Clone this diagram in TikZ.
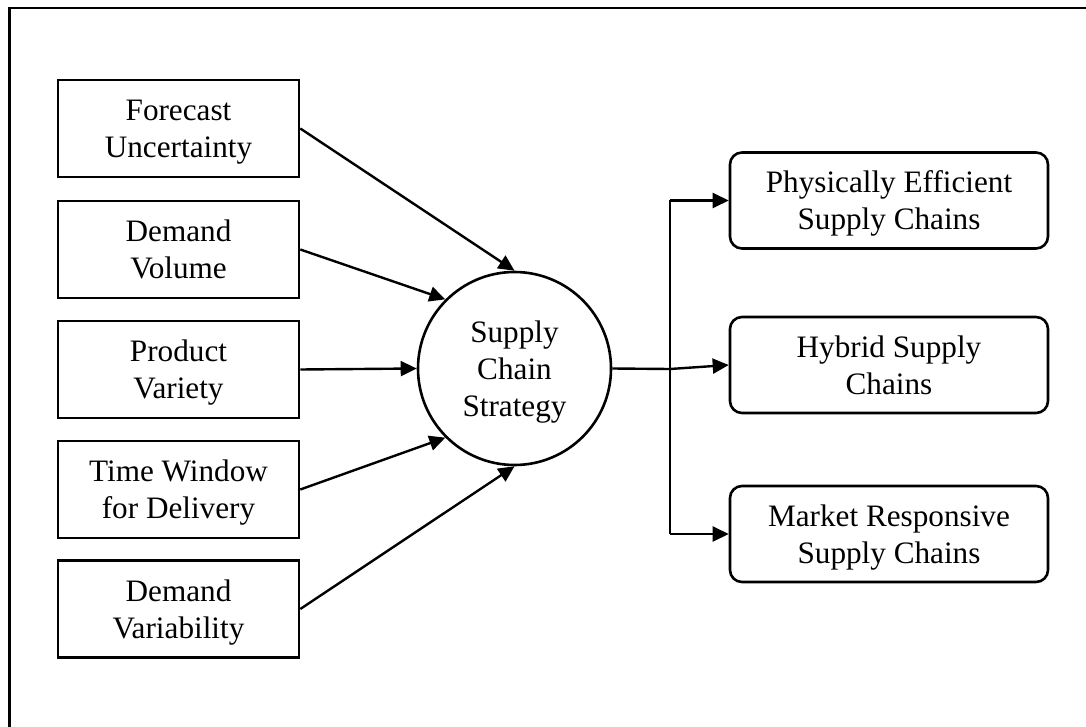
\documentclass[tikz,border=0pt]{standalone}
\usepackage{fontspec}
\setmainfont{Liberation Serif}
\usetikzlibrary{arrows.meta}
\begin{document}
\begin{tikzpicture}[x=0.5pt,y=-0.5pt,
  line width=1.3pt,
  label text/.style={font=\fontsize{15.6}{18.5}\selectfont, text depth=0pt},
  factor/.style={draw, rectangle, minimum width=120.5pt, minimum height=48.5pt,
    align=center, inner sep=0pt, label text},
  outcome/.style={draw, rectangle, rounded corners=6pt, minimum width=159pt,
    minimum height=48pt, align=center, inner sep=0pt, label text},
  hub/.style={draw, circle, minimum size=96.5pt, align=center, inner sep=0pt,
    label text},
  link/.style={-{Triangle[length=8pt,width=7.5pt]}, line width=1.2pt}]
\useasboundingbox (0,0) rectangle (1086,727);
% open outer frame
\draw[line width=1.3pt] (9.5,727) -- (9.5,8) -- (1086,8);

% driving factors
\node[factor] (fu) at (178.5,128.5) {Forecast\\Uncertainty};
\node[factor] (dv) at (178.5,249.5) {Demand\\Volume};
\node[factor] (pv) at (178.5,369.5) {Product\\Variety};
\node[factor] (tw) at (178.5,489.5) {Time Window\\for Delivery};
\node[factor] (dy) at (178.5,609) {Demand\\Variability};

% strategy
\node[hub] (sc) at (514.5,368.5) {Supply\\Chain\\Strategy};

% resulting chain types
\node[outcome] (pe) at (889,200.5) {Physically Efficient\\Supply Chains};
\node[outcome] (hy) at (889,365) {Hybrid Supply\\Chains};
\node[outcome] (mr) at (889,534) {Market Responsive\\Supply Chains};

% factor connectors
\draw[link] (fu.east) -- (sc.north);
\draw[link] (dv.east) -- (sc.135);
\draw[link] (pv.east) -- (sc.west);
\draw[link] (tw.east) -- (sc.225);
\draw[link] (dy.east) -- (sc.south);

% outcome connectors
\coordinate (split) at (670,369);
\coordinate (up) at (670,200.5);
\coordinate (down) at (670,534);
\draw[link] (sc.east) -- (split) -- (hy.west);
\draw[line width=1.2pt] (up) -- (down);
\draw[link] (up) -- (pe.west);
\draw[link] (down) -- (mr.west);
\end{tikzpicture}
\end{document}
